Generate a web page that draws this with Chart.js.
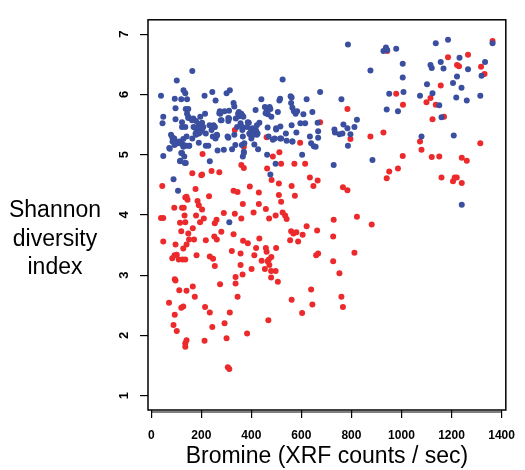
<!DOCTYPE html>
<html><head><meta charset="utf-8">
<script src="https://cdn.jsdelivr.net/npm/chart.js@4/dist/chart.umd.min.js"></script>
<style>html,body{margin:0;padding:0;background:#fff}#wrap{width:525px;height:470px}</style>
</head><body><div id="wrap"><canvas id="c" width="525" height="470"></canvas></div>
<script>
const xTicks = [0,200,400,600,800,1000,1200,1400];
const yTicks = [1,2,3,4,5,6,7];
const xTitle = "Bromine (XRF counts / sec)";
const yTitleLines = ["Shannon","diversity","index"];

const bluePts = [[39,5.98],[45,5.52],[48,5.63],[48,4.98],[102,6.23],[164,6.39],[94,5.93],[97,5.77],[97,5.59],[129,6.07],[136,6.02],[143,5.92],[120,5.92],[138,5.76],[148,5.76],[143,5.68],[123,5.54],[136,5.46],[123,5.46],[148,5.61],[168,5.60],[179,5.56],[190,5.51],[174,5.45],[182,5.40],[195,5.44],[190,5.35],[177,5.35],[164,5.27],[141,5.30],[151,5.15],[128,5.26],[112,5.22],[89,5.25],[84,5.29],[93,5.16],[74,5.10],[102,5.19],[121,5.18],[128,5.13],[123,5.03],[132,4.97],[116,4.90],[138,4.86],[89,4.59],[107,4.40],[190,5.20],[196,5.63],[203,5.53],[203,5.42],[213,5.98],[215,5.68],[218,5.15],[228,5.15],[234,4.89],[244,6.04],[241,5.41],[249,5.49],[254,5.46],[257,5.90],[257,5.27],[263,5.32],[265,5.07],[274,5.72],[276,5.68],[281,5.57],[293,5.72],[290,5.08],[301,6.02],[314,6.07],[308,5.61],[308,5.28],[308,5.56],[323,5.09],[329,5.86],[332,5.80],[332,5.33],[338,5.60],[347,5.68],[352,5.64],[360,5.68],[368,5.63],[357,5.52],[364,5.46],[366,5.30],[370,5.03],[366,4.97],[386,5.54],[394,5.34],[399,5.41],[404,5.44],[409,5.33],[417,5.74],[419,5.40],[412,5.17],[425,5.35],[427,5.09],[432,5.53],[440,5.92],[454,5.79],[461,5.72],[466,5.67],[476,5.76],[480,5.63],[465,5.45],[469,5.30],[463,5.00],[476,4.67],[486,5.25],[497,4.85],[499,5.42],[506,5.71],[512,5.90],[515,5.93],[515,5.27],[525,6.25],[538,5.35],[541,5.23],[557,5.97],[559,5.86],[561,5.95],[564,5.78],[570,5.72],[577,5.68],[583,5.72],[561,5.49],[564,5.22],[580,5.37],[596,5.52],[608,5.67],[615,5.52],[621,5.92],[603,5.00],[634,5.30],[639,5.19],[644,5.71],[650,5.14],[657,5.13],[665,5.53],[667,5.39],[667,5.28],[675,6.04],[729,4.83],[732,5.42],[734,5.37],[752,5.34],[760,5.92],[764,5.35],[768,5.50],[786,6.83],[784,5.44],[786,5.15],[796,5.34],[812,5.46],[822,5.58],[876,6.40],[884,4.91],[928,6.72],[938,6.78],[943,6.74],[941,5.75],[951,6.01],[979,6.76],[986,5.72],[1005,6.51],[1005,6.28],[1008,6.04],[1074,5.98],[1080,5.30],[1102,6.17],[1116,6.49],[1121,6.44],[1124,6.02],[1137,6.85],[1151,5.82],[1160,5.62],[1157,6.54],[1168,6.43],[1186,6.91],[1206,6.19],[1209,5.32],[1222,6.30],[1219,5.95],[1232,6.61],[1240,6.11],[1241,4.17],[1261,5.90],[1266,6.42],[1315,5.98],[1320,6.31],[1334,6.54],[1364,6.85],[312,3.88],
[148,5.63],[163,5.57],[169,5.46],[188,5.44],[195,5.37],[179,5.33],[208,5.46],[218,5.35],[233,5.49],[253,5.46],[262,5.33],[272,5.69],[278,5.57],[311,5.60],[350,5.71],[343,5.46],[305,5.30],[336,5.16],[362,5.16],[79,5.33],[92,5.27],[85,5.22],[105,5.19],[117,5.19],[130,5.16],[72,5.11],[120,5.03],[141,5.15],[152,5.15],[115,4.89],[134,4.86],[246,5.30],[311,5.73],[473,5.79],[457,5.69],[364,5.65],[390,5.53],[383,5.46],[422,5.49],[415,5.38],[422,5.33],[499,5.44],[516,5.47],[493,5.27],[519,5.27],[564,5.22],[364,5.41],[372,5.19],[370,5.05],[392,5.35],[400,5.27]];

const redPts = [[44,4.48],[39,3.95],[48,3.95],[48,3.56],[92,4.12],[97,3.51],[84,3.28],[93,3.33],[102,3.34],[110,3.26],[115,3.87],[120,3.73],[123,4.12],[130,4.12],[133,3.99],[136,3.88],[136,4.29],[145,4.25],[141,4.30],[148,3.69],[151,3.59],[141,3.51],[128,3.44],[125,3.26],[136,3.26],[164,4.69],[177,4.43],[179,3.99],[166,3.78],[171,3.59],[185,4.23],[190,4.16],[195,3.88],[203,4.09],[210,3.94],[200,4.66],[203,4.67],[205,5.01],[181,3.33],[218,3.58],[231,4.31],[254,3.86],[261,3.92],[252,3.64],[262,3.59],[241,4.73],[272,4.71],[234,3.31],[247,3.27],[254,3.15],[280,3.72],[275,2.85],[290,4.03],[329,4.40],[345,4.38],[334,4.02],[329,3.68],[360,3.94],[322,3.40],[357,3.36],[337,2.97],[337,2.86],[357,3.17],[365,3.01],[345,2.64],[366,4.18],[367,3.57],[386,3.53],[394,4.47],[360,4.83],[370,4.78],[370,5.13],[334,5.41],[409,4.04],[412,3.33],[419,3.45],[401,3.10],[432,3.61],[430,4.18],[430,4.37],[441,3.24],[458,4.10],[458,3.45],[461,3.39],[465,3.23],[470,3.26],[472,3.17],[480,3.30],[454,3.10],[471,3.94],[479,3.07],[479,2.96],[497,3.07],[506,2.89],[499,3.45],[497,3.99],[481,4.58],[463,4.77],[486,4.97],[512,5.04],[519,4.85],[510,4.52],[510,4.33],[519,4.22],[525,4.04],[535,3.99],[541,3.93],[561,4.48],[574,4.32],[572,4.85],[615,4.85],[595,5.20],[559,3.73],[568,3.69],[580,3.71],[555,3.58],[587,3.56],[605,3.67],[621,3.81],[634,4.62],[648,4.48],[665,4.57],[663,3.74],[659,3.33],[667,3.36],[561,2.59],[603,2.37],[639,2.76],[644,2.51],[675,5.54],[729,3.92],[727,3.64],[727,3.23],[752,3.03],[760,2.64],[766,2.47],[766,4.46],[784,4.41],[784,5.76],[796,5.26],[812,3.37],[822,3.97],[876,5.30],[881,3.84],[928,5.37],[941,4.61],[951,4.72],[943,6.72],[979,6.01],[986,4.77],[1005,4.98],[1006,5.83],[1074,5.22],[1080,5.08],[1100,5.87],[1116,5.94],[1124,5.59],[1121,4.96],[1137,5.83],[1151,4.97],[1157,6.15],[1170,5.63],[1160,4.62],[1186,6.62],[1206,4.56],[1213,4.62],[1221,4.62],[1222,6.49],[1230,6.47],[1241,4.95],[1241,4.53],[1261,4.90],[1266,6.66],[1315,5.19],[1318,6.46],[1332,6.34],[1364,6.89],[71,2.54],[94,2.93],[97,2.91],[112,2.75],[141,2.74],[166,2.81],[174,2.64],[94,2.34],[89,2.17],[102,2.07],[120,2.46],[128,2.48],[141,1.92],[136,1.87],[136,1.81],[215,2.47],[234,2.38],[244,2.14],[213,1.91],[293,2.20],[301,1.95],[314,2.38],[306,1.47],[312,1.44],[383,2.03],[468,2.25],[461,5.29]];

const FONT = "'Liberation Sans', Arial, Helvetica, sans-serif";
const toXY = a => a.map(p => ({x:p[0], y:p[1]}));

const framePlugin = {
  id:'frame',
  afterDraw(chart){
    const {ctx, chartArea:a, scales} = chart;
    ctx.save();
    ctx.strokeStyle = '#000';
    ctx.lineWidth = 1.5;
    ctx.strokeRect(a.left, a.top, a.right-a.left, a.bottom-a.top);
    ctx.lineWidth = 1.2;
    ctx.beginPath();
    const yl = a.bottom + 2;
    ctx.moveTo(scales.x.getPixelForValue(xTicks[0]), yl);
    ctx.lineTo(scales.x.getPixelForValue(xTicks[xTicks.length-1]), yl);
    ctx.stroke();
    ctx.fillStyle = '#000';
    ctx.font = '23px ' + FONT;
    ctx.textAlign = 'center';
    ctx.textBaseline = 'middle';
    const ys = [211, 240, 268];
    yTitleLines.forEach((t,i) => ctx.fillText(t, 55, ys[i]));
    ctx.restore();
  }
};

new Chart(document.getElementById('c'), {
  type:'scatter',
  data:{datasets:[
    {label:'blue', data:toXY(bluePts), backgroundColor:'#3a4f9f', borderWidth:0, pointRadius:3, pointHoverRadius:3},
    {label:'red', data:toXY(redPts), backgroundColor:'#ec2a2c', borderWidth:0, pointRadius:3, pointHoverRadius:3}
  ]},
  options:{
    responsive:false, animation:false, devicePixelRatio:1,
    layout:{padding:{left:0, right:8, top:14, bottom:0}},
    plugins:{legend:{display:false}, tooltip:{enabled:false}},
    events:[],
    scales:{
      x:{type:'linear', min:-13, max:1417,
        afterBuildTicks: s => { s.ticks = xTicks.map(v=>({value:v})); },
        afterFit: s => { s.height = 60; },
        grid:{display:true, drawOnChartArea:false, drawTicks:true, tickLength:8, color:'#000', lineWidth:1.2},
        border:{display:false},
        ticks:{color:'#000', font:{family:FONT, size:12, weight:'bold'}, padding:10, maxRotation:0, autoSkip:false, callback:v=>String(v)},
        title:{display:true, text:xTitle, color:'#000', font:{family:FONT, size:23, lineHeight:1.2}, padding:{top:0,bottom:0}}
      },
      y:{type:'linear', min:0.76, max:7.24,
        afterBuildTicks: s => { s.ticks = yTicks.map(v=>({value:v})); },
        afterFit: s => { s.width = 148; },
        grid:{display:true, drawOnChartArea:false, drawTicks:true, tickLength:8, color:'#000', lineWidth:1.2},
        border:{display:false},
        ticks:{color:'#000', font:{family:FONT, size:13, weight:'bold'}, padding:12, minRotation:90, maxRotation:90, crossAlign:'center', autoSkip:false, callback:v=>String(v)}
      }
    }
  },
  plugins:[framePlugin]
});
</script></body></html>
